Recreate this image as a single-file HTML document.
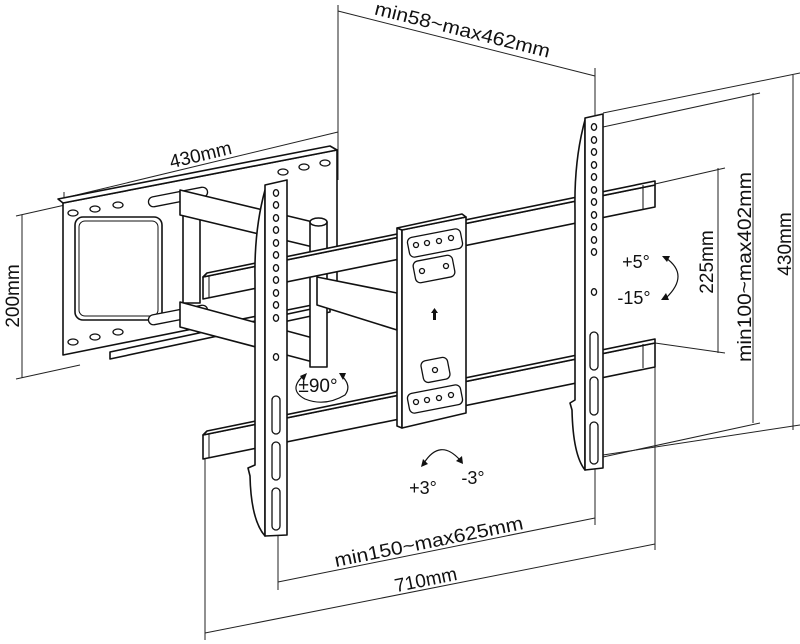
<!DOCTYPE html>
<html><head><meta charset="utf-8"><style>
html,body{margin:0;padding:0;background:#fff}
svg{display:block}
text{font-family:"Liberation Sans",sans-serif;fill:#111}
</style></head><body>
<svg width="800" height="644" viewBox="0 0 800 644" xmlns="http://www.w3.org/2000/svg">
<g fill="none" stroke="#222" stroke-width="1">
<line x1="338" y1="5" x2="338" y2="180"/>
<line x1="595" y1="68" x2="595" y2="140"/>
<line x1="338" y1="11" x2="595" y2="76"/>
<line x1="64" y1="198" x2="338" y2="132"/>
<line x1="64" y1="192" x2="64" y2="215"/>
<line x1="22" y1="215" x2="22" y2="378"/>
<line x1="16" y1="216" x2="65" y2="205"/>
<line x1="16" y1="379" x2="80" y2="365"/>
<line x1="603" y1="113" x2="800" y2="73"/>
<line x1="603" y1="455" x2="800" y2="425"/>
<line x1="793" y1="75" x2="793" y2="430"/>
<line x1="603" y1="127" x2="760" y2="93"/>
<line x1="603" y1="457" x2="760" y2="423"/>
<line x1="753" y1="93" x2="753" y2="423"/>
<line x1="655" y1="184" x2="725" y2="168"/>
<line x1="655" y1="343" x2="725" y2="353"/>
<line x1="718" y1="168" x2="718" y2="353"/>
<line x1="278" y1="480" x2="278" y2="590"/>
<line x1="595" y1="460" x2="595" y2="525"/>
<line x1="278" y1="582" x2="595" y2="518"/>
<line x1="205" y1="455" x2="205" y2="640"/>
<line x1="655" y1="365" x2="655" y2="550"/>
<line x1="205" y1="633" x2="655" y2="544"/>
</g>
<g fill="#fff" stroke="#111" stroke-width="1.6" stroke-linejoin="round">
<polygon points="63,203 337,150 337,300 63,355"/>
<polygon points="63,203 337,150 330,146 58,199" />
<rect x="75" y="217" width="87" height="103" rx="8"/>
<rect x="79" y="221" width="79" height="95" rx="6" fill="none" stroke-width="1"/>
<g stroke-width="1.3">
<ellipse cx="73" cy="213" rx="5" ry="3"/><ellipse cx="95" cy="209" rx="5" ry="3"/><ellipse cx="118" cy="205" rx="5" ry="3"/>
<ellipse cx="73" cy="342" rx="5" ry="3"/><ellipse cx="95" cy="337" rx="5" ry="3"/><ellipse cx="118" cy="332" rx="5" ry="3"/>
<ellipse cx="283" cy="172" rx="5" ry="3"/><ellipse cx="304" cy="167" rx="5" ry="3"/><ellipse cx="325" cy="163" rx="5" ry="3"/>
<rect x="148" y="192" width="60" height="10" rx="5" transform="rotate(-11 178 197)"/>
<rect x="148" y="310" width="60" height="10" rx="5" transform="rotate(-11 178 315)"/>
</g>
<polygon points="110,352 330,305 330,312 110,359"/>
<rect x="183" y="213" width="17" height="90"/>
<polygon points="180,190 313,222 313,247 180,215"/>
<polygon points="180,302 313,338 313,362 180,327"/>
<rect x="310" y="222" width="17" height="145"/>
<ellipse cx="318.5" cy="222" rx="8.5" ry="4"/>
<polygon points="317,277 397,293 397,330 317,305"/>
<polygon points="203,277 655,185 655,207 203,299"/>
<polygon points="203,277 207,273 655,181 655,185"/>
<line x1="209" y1="276" x2="209" y2="298" stroke-width="1"/>
<polygon points="203,435 655,343 655,367 203,459"/>
<polygon points="203,435 207,431 655,339 655,343"/>
<line x1="209" y1="434" x2="209" y2="458" stroke-width="1"/>
<line x1="643" y1="185" x2="643" y2="209" stroke-width="1"/>
<line x1="643" y1="344" x2="643" y2="368" stroke-width="1"/>
<path d="M265,190 Q254,230 255,280 L255,465 L248,468 L250,476 Q251,520 265,536 Z"/>
<polygon points="265,185 287,180 287,535 265,536"/>
<path d="M585,120 Q574,160 575,210 L575,400 L570,403 L572,410 Q573,455 585,470 Z"/>
<polygon points="585,118 603,114 603,468 585,470"/>
<polygon points="397,228 402,230 402,428 397,426"/>
<polygon points="402,230 466,217 466,413 402,428"/>
<polygon points="402,230 466,217 462,214 397,228"/>
</g>
<g fill="#fff" stroke="#111" stroke-width="1.3">
<ellipse cx="276" cy="193" rx="2.6" ry="3.3"/><ellipse cx="276" cy="205" rx="2.6" ry="3.3"/><ellipse cx="276" cy="218" rx="2.6" ry="3.3"/><ellipse cx="276" cy="230" rx="2.6" ry="3.3"/><ellipse cx="276" cy="243" rx="2.6" ry="3.3"/><ellipse cx="276" cy="255" rx="2.6" ry="3.3"/><ellipse cx="276" cy="268" rx="2.6" ry="3.3"/><ellipse cx="276" cy="280" rx="2.6" ry="3.3"/><ellipse cx="276" cy="293" rx="2.6" ry="3.3"/><ellipse cx="276" cy="305" rx="2.6" ry="3.3"/><ellipse cx="276" cy="318" rx="2.6" ry="3.3"/><ellipse cx="276" cy="357" rx="2.6" ry="3.3"/>
<rect x="272" y="396" width="8" height="38" rx="4"/><rect x="272" y="442" width="8" height="38" rx="4"/><rect x="272" y="488" width="8" height="42" rx="4"/>
<ellipse cx="594" cy="127" rx="2.6" ry="3.3"/><ellipse cx="594" cy="140" rx="2.6" ry="3.3"/><ellipse cx="594" cy="152" rx="2.6" ry="3.3"/><ellipse cx="594" cy="165" rx="2.6" ry="3.3"/><ellipse cx="594" cy="177" rx="2.6" ry="3.3"/><ellipse cx="594" cy="190" rx="2.6" ry="3.3"/><ellipse cx="594" cy="202" rx="2.6" ry="3.3"/><ellipse cx="594" cy="215" rx="2.6" ry="3.3"/><ellipse cx="594" cy="227" rx="2.6" ry="3.3"/><ellipse cx="594" cy="240" rx="2.6" ry="3.3"/><ellipse cx="594" cy="252" rx="2.6" ry="3.3"/><ellipse cx="594" cy="292" rx="2.6" ry="3.3"/>
<rect x="590" y="332" width="8" height="38" rx="4"/><rect x="590" y="377" width="8" height="38" rx="4"/><rect x="590" y="422" width="8" height="42" rx="4"/>
<rect x="408" y="233" width="54" height="20" rx="5" transform="rotate(-11 435 243)"/>
<rect x="414" y="258" width="40" height="22" rx="5" transform="rotate(-11 434 269)"/>
<rect x="422" y="359" width="27" height="22" rx="5" transform="rotate(-11 435 370)"/>
<rect x="408" y="389" width="54" height="20" rx="5" transform="rotate(-11 435 399)"/>
<circle cx="416" cy="245" r="2.5"/><circle cx="427" cy="243" r="2.5"/><circle cx="439" cy="241" r="2.5"/><circle cx="451" cy="238" r="2.5"/>
<circle cx="422" cy="271" r="2.5"/><circle cx="446" cy="266" r="2.5"/>
<circle cx="435" cy="370" r="2.5"/>
<circle cx="416" cy="402" r="2.5"/><circle cx="427" cy="400" r="2.5"/><circle cx="439" cy="398" r="2.5"/><circle cx="451" cy="395" r="2.5"/>
</g>
<path d="M433,320 L433,313 L431,313 L434.5,308 L438,313 L436,313 L436,320 Z" fill="#111"/>
<g fill="none" stroke="#111" stroke-width="1.2">
<path d="M303,376 Q288,390 305,399 Q325,407 345,395 Q352,386 342,376"/>
<path d="M424,463 Q440,438 460,460"/>
<path d="M666,258 Q690,275 666,298"/>
</g>
<g fill="#111">
<polygon points="300,376 307,373 304,381"/><polygon points="346,373 339,373 343,380"/>
<polygon points="421,467 423,459 428,464"/><polygon points="463,464 456,461 462,456"/>
<polygon points="662,256 670,256 667,262"/><polygon points="661,300 669,300 666,293"/>
</g>
<text x="461" y="36" font-size="19" text-anchor="middle" transform="rotate(14 461 36)" textLength="180" lengthAdjust="spacingAndGlyphs">min58~max462mm</text>
<text x="202" y="161" font-size="19" text-anchor="middle" transform="rotate(-13.5 202 161)">430mm</text>
<text x="19" y="296" font-size="19" text-anchor="middle" transform="rotate(-90 19 296)">200mm</text>
<text x="318" y="392" font-size="19" text-anchor="middle">±90°</text>
<text x="636" y="268" font-size="18" text-anchor="middle">+5°</text>
<text x="634" y="304" font-size="18" text-anchor="middle">-15°</text>
<text x="713" y="262" font-size="19" text-anchor="middle" transform="rotate(-90 713 262)">225mm</text>
<text x="751" y="267" font-size="19" text-anchor="middle" transform="rotate(-90 751 267)" textLength="190" lengthAdjust="spacingAndGlyphs">min100~max402mm</text>
<text x="791" y="244" font-size="19" text-anchor="middle" transform="rotate(-90 791 244)">430mm</text>
<text x="423" y="494" font-size="18" text-anchor="middle">+3°</text>
<text x="473" y="484" font-size="18" text-anchor="middle">-3°</text>
<text x="430" y="548" font-size="19" text-anchor="middle" transform="rotate(-11.4 430 548)" textLength="192" lengthAdjust="spacingAndGlyphs">min150~max625mm</text>
<text x="427" y="586" font-size="19" text-anchor="middle" transform="rotate(-11.4 427 586)">710mm</text>
</svg>
</body></html>
